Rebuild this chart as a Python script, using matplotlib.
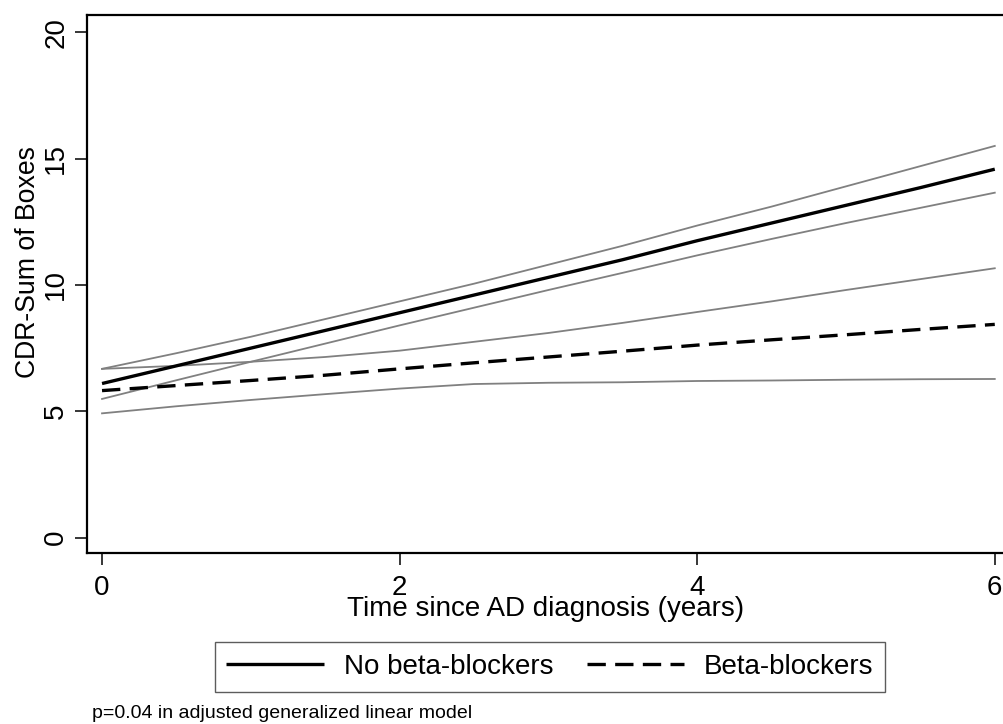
import matplotlib
matplotlib.use("Agg")
import matplotlib.pyplot as plt

plt.rcParams['font.family'] = ['Liberation Sans', 'DejaVu Sans']

# Data
time = [0, 0.5, 1, 1.5, 2, 2.5, 3, 3.5, 4, 4.5, 5, 5.5, 6]
no_bb_mean = [6.10, 6.80, 7.50, 8.20, 8.90, 9.60, 10.30, 11.00, 11.75, 12.45, 13.15, 13.85, 14.58]
no_bb_upper = [6.68, 7.30, 7.95, 8.65, 9.35, 10.05, 10.80, 11.55, 12.35, 13.10, 13.90, 14.70, 15.50]
no_bb_lower = [5.49, 6.23, 6.96, 7.68, 8.40, 9.10, 9.80, 10.48, 11.17, 11.82, 12.45, 13.05, 13.65]
bb_mean = [5.82, 6.02, 6.22, 6.43, 6.68, 6.92, 7.15, 7.38, 7.62, 7.83, 8.03, 8.24, 8.44]
bb_upper = [6.68, 6.80, 6.96, 7.15, 7.40, 7.75, 8.10, 8.50, 8.93, 9.35, 9.80, 10.23, 10.66]
bb_lower = [4.92, 5.20, 5.45, 5.68, 5.90, 6.08, 6.13, 6.15, 6.20, 6.22, 6.25, 6.27, 6.28]

xticks = [0, 2, 4, 6]
yticks = [0, 5, 10, 15, 20]
series_labels = ["No beta-blockers", "Beta-blockers"]
xlabel = "Time since AD diagnosis (years)"
ylabel = "CDR-Sum of Boxes"
footnote = "p=0.04 in adjusted generalized linear model"

W, H = 1004, 724
fig = plt.figure(figsize=(W / 100, H / 100), dpi=100)
ax = fig.add_axes([87 / W, 1 - 553 / H, (W - 87) / W, (553 - 15) / H])

ci_kw = dict(color='#808080', lw=1.3, solid_joinstyle='round')
ax.plot(time, no_bb_upper, **ci_kw)
ax.plot(time, no_bb_lower, **ci_kw)
ax.plot(time, bb_upper, **ci_kw)
ax.plot(time, bb_lower, **ci_kw)
l1, = ax.plot(time, no_bb_mean, color='black', lw=2.4, solid_capstyle='butt')
l2, = ax.plot(time, bb_mean, color='black', lw=2.4, linestyle=(0, (5.5, 2.8)), dash_capstyle='butt')

ax.set_xlim(-0.101, 6.062)
ax.set_ylim(-0.605, 20.68)
ax.set_xticks(xticks)
ax.set_yticks(yticks)
ax.set_xticklabels([str(v) for v in xticks])
ax.set_yticklabels([str(v) for v in yticks], rotation=90, va='center')

for s in ['left', 'top', 'bottom']:
    ax.spines[s].set_linewidth(1.6)
ax.spines['right'].set_visible(False)
ax.tick_params(axis='both', labelsize=20, width=1.1, length=8.5, color='black')
ax.tick_params(axis='x', pad=7.5)
ax.tick_params(axis='y', pad=4.3)

ax.set_xlabel(xlabel, fontsize=20)
ax.xaxis.set_label_coords(0.5, -0.079)
ax.set_ylabel(ylabel, fontsize=19.2)
ax.yaxis.set_label_coords(-0.0502, 0.54)

leg = fig.legend([l1, l2], series_labels, loc='center', ncol=2,
                 bbox_to_anchor=(550 / W, 1 - 667 / H), fontsize=20,
                 frameon=True, fancybox=False, edgecolor='#333333',
                 handlelength=3.5, handletextpad=0.72, columnspacing=1.22,
                 borderpad=0.42)
leg.get_frame().set_linewidth(1.0)

fig.text(92 / W, 1 - 713 / H, footnote, fontsize=14, ha='left', va='center')

fig.savefig('out.png', dpi=100, facecolor='white')
